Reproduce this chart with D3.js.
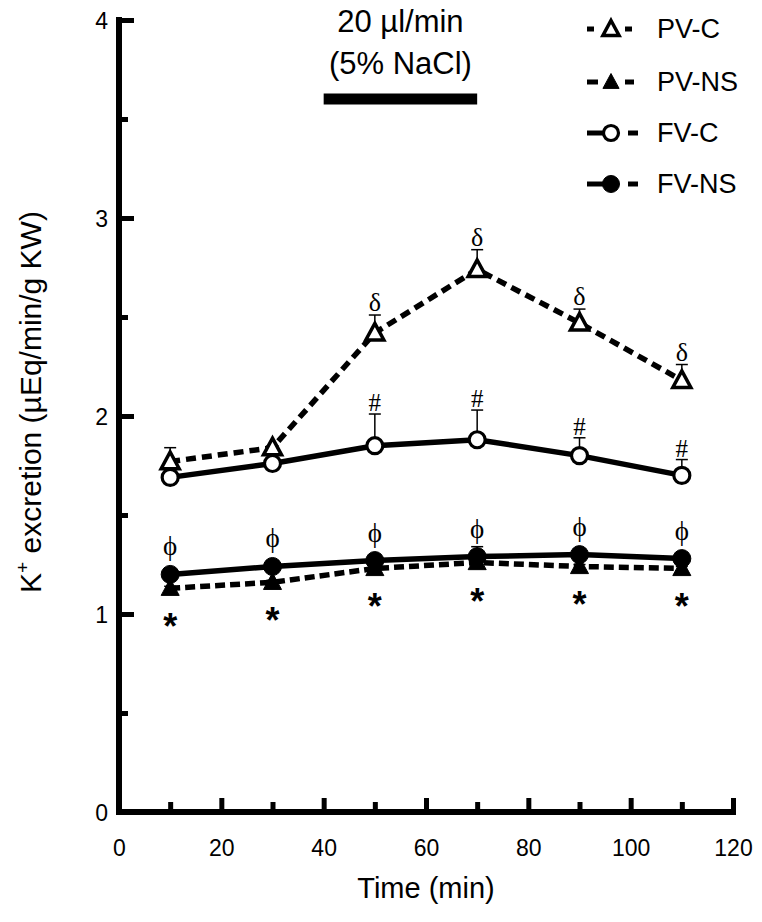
<!DOCTYPE html>
<html>
<head>
<meta charset="utf-8">
<script src="https://cdn.jsdelivr.net/npm/d3@7"></script>
<style>
  html, body { margin: 0; padding: 0; background: #fff; }
  svg { display: block; }
  text { font-family: "Liberation Sans", Arial, Helvetica, sans-serif; fill: #000; }
  .serif { font-family: "Liberation Serif", "DejaVu Serif", "Times New Roman", serif; }
</style>
</head>
<body>
<svg id="chart" width="762" height="922"></svg>
<script>
// ---------------- DATA ----------------
const times = [10, 30, 50, 70, 90, 110];

const pvC  = [1.77, 1.84, 2.42, 2.74, 2.47, 2.18];
const pvCErr = [0.07, 0.01, 0.09, 0.10, 0.07, 0.08];

const pvNS = [1.13, 1.16, 1.23, 1.26, 1.24, 1.23];
const pvNSErr = [0.01, 0.01, 0.02, 0.02, 0.01, 0.01];

const fvC  = [1.69, 1.76, 1.85, 1.88, 1.80, 1.70];
const fvCErr = [0.02, 0.02, 0.16, 0.15, 0.09, 0.08];

const fvNS = [1.20, 1.24, 1.27, 1.29, 1.30, 1.28];
const fvNSErr = [0.02, 0.02, 0.03, 0.05, 0.02, 0.02];

const pvCMarks  = ["", "", "δ", "δ", "δ", "δ"];
const fvCMarks  = ["", "", "#", "#", "#", "#"];
const fvNSMarks = ["ϕ", "ϕ", "ϕ", "ϕ", "ϕ", "ϕ"];
const pvNSMarks = ["*", "*", "*", "*", "*", "*"];

const xTickValues = [0, 10, 20, 30, 40, 50, 60, 70, 80, 90, 100, 110, 120];
const xTickLabels = ["0", "20", "40", "60", "80", "100", "120"];
const yTickValues = [0, 0.5, 1, 1.5, 2, 2.5, 3, 3.5, 4];
const yTickLabels = ["0", "1", "2", "3", "4"];

const infusionPeriod = [40, 70];
const infusionLabel = ["20 µl/min", "(5% NaCl)"];

const legendNames = ["PV-C", "PV-NS", "FV-C", "FV-NS"];

// ---------------- SETUP ----------------
const svg = d3.select("#chart");
const x = d3.scaleLinear().domain([0, 120]).range([119, 733]);
const y = d3.scaleLinear().domain([0, 4]).range([812, 20]);

// ---------------- AXES ----------------
const xAxis = d3.axisBottom(x)
  .tickValues(xTickValues)
  .tickSizeInner(-12)
  .tickSizeOuter(0)
  .tickFormat(d => xTickLabels.includes(String(d)) ? String(d) : "");
const gx = svg.append("g").attr("transform", `translate(0,${y(0)})`).call(xAxis);
gx.select(".domain").attr("stroke", "#000").attr("stroke-width", 6)
  .attr("d", `M${x(0) - 3},0H${x(120) + 3}`);
gx.selectAll(".tick line").attr("stroke", "#000").attr("stroke-width", 5)
  .attr("y2", d => (d % 20 === 0 ? -14 : -10));
gx.selectAll(".tick text").attr("font-size", 23).attr("dy", 0).attr("y", 44)
  .style("font-family", "'Liberation Sans', Arial, sans-serif");

const yAxis = d3.axisLeft(y)
  .tickValues(yTickValues)
  .tickSizeInner(-14)
  .tickSizeOuter(0)
  .tickFormat(d => yTickLabels.includes(String(d)) ? String(d) : "");
const gy = svg.append("g").attr("transform", `translate(${x(0)},0)`).call(yAxis);
gy.select(".domain").attr("stroke", "#000").attr("stroke-width", 6)
  .attr("d", `M0,${y(4) - 3}V${y(0) + 3}`);
gy.selectAll(".tick line").attr("stroke", "#000").attr("stroke-width", 5)
  .attr("x2", d => (Number.isInteger(d) ? 15 : 9));
gy.selectAll(".tick text").attr("font-size", 23).attr("x", -11).attr("dy", "0.36em")
  .style("font-family", "'Liberation Sans', Arial, sans-serif");

// Axis titles
svg.append("text")
  .attr("x", (x(0) + x(120)) / 2).attr("y", 898)
  .attr("text-anchor", "middle").attr("font-size", 29)
  .text("Time (min)");

const yt = svg.append("text")
  .attr("transform", `translate(41,402) rotate(-90)`)
  .attr("text-anchor", "middle").attr("font-size", 30);
yt.append("tspan").text("K");
yt.append("tspan").attr("font-size", 19).attr("dy", -12).text("+");
yt.append("tspan").attr("dy", 12).text(" excretion (µEq/min/g KW)");

// ---------------- INFUSION BAR ----------------
svg.append("line")
  .attr("x1", x(infusionPeriod[0])).attr("x2", x(infusionPeriod[1]))
  .attr("y1", 99).attr("y2", 99)
  .attr("stroke", "#000").attr("stroke-width", 11);
const midBar = (x(infusionPeriod[0]) + x(infusionPeriod[1])) / 2;
svg.append("text").attr("x", midBar).attr("y", 32).attr("text-anchor", "middle")
  .attr("font-size", 31).text(infusionLabel[0]);
svg.append("text").attr("x", midBar).attr("y", 74).attr("text-anchor", "middle")
  .attr("font-size", 31).text(infusionLabel[1]);

// ---------------- SERIES ----------------
const series = [
  { name: "PV-C",  vals: pvC,  err: pvCErr,  dash: "10,6", marker: "tri",  filled: false },
  { name: "FV-C",  vals: fvC,  err: fvCErr,  dash: null,   marker: "circ", filled: false },
  { name: "PV-NS", vals: pvNS, err: pvNSErr, dash: "10,5", marker: "tri",  filled: true },
  { name: "FV-NS", vals: fvNS, err: fvNSErr, dash: null,   marker: "circ", filled: true }
];

const line = d3.line().x((d, i) => x(times[i])).y(d => y(d));

series.forEach(s => {
  svg.append("path")
    .datum(s.vals)
    .attr("d", line)
    .attr("fill", "none")
    .attr("stroke", "#000")
    .attr("stroke-width", 5.5)
    .attr("stroke-dasharray", s.dash);
});

series.forEach(s => {
  const g = svg.append("g");
  s.vals.forEach((v, i) => {
    const cx = x(times[i]);
    g.append("line").attr("x1", cx).attr("x2", cx)
      .attr("y1", y(v)).attr("y2", y(v + s.err[i]))
      .attr("stroke", "#000").attr("stroke-width", 1.5);
    g.append("line").attr("x1", cx - 6).attr("x2", cx + 6)
      .attr("y1", y(v + s.err[i])).attr("y2", y(v + s.err[i]))
      .attr("stroke", "#000").attr("stroke-width", 1.5);
  });
});

function triPath(cx, cy, r) {
  const h = r * 1.0;
  return `M${cx},${cy - h}L${cx + r * 0.95},${cy + h * 0.75}L${cx - r * 0.95},${cy + h * 0.75}Z`;
}

function drawMarker(g, type, filled, cx, cy, size) {
  if (type === "tri") {
    g.append("path").attr("d", triPath(cx, cy, size))
      .attr("fill", filled ? "#000" : "#fff")
      .attr("stroke", "#000").attr("stroke-width", filled ? 1 : 3.5)
      .attr("stroke-linejoin", "miter");
  } else {
    g.append("circle").attr("cx", cx).attr("cy", cy).attr("r", filled ? size : size - 1)
      .attr("fill", filled ? "#000" : "#fff")
      .attr("stroke", "#000").attr("stroke-width", filled ? 1 : 3.2);
  }
}

series.forEach(s => {
  const g = svg.append("g");
  s.vals.forEach((v, i) => {
    drawMarker(g, s.marker, s.filled, x(times[i]), y(v), s.marker === "tri" ? 9.5 : 9);
  });
});

// ---------------- ANNOTATIONS ----------------
const ann = svg.append("g");
pvC.forEach((v, i) => {
  if (!pvCMarks[i]) return;
  ann.append("text").attr("class", "serif")
    .attr("x", x(times[i])).attr("y", y(v + pvCErr[i]) - 4)
    .attr("text-anchor", "middle").attr("font-size", 26).text(pvCMarks[i]);
});
fvC.forEach((v, i) => {
  if (!fvCMarks[i]) return;
  ann.append("text").attr("class", "serif")
    .attr("x", x(times[i])).attr("y", y(v + fvCErr[i]) - 3)
    .attr("text-anchor", "middle").attr("font-size", 25).text(fvCMarks[i]);
});
fvNS.forEach((v, i) => {
  if (!fvNSMarks[i]) return;
  ann.append("text").attr("class", "serif")
    .attr("x", x(times[i])).attr("y", y(v) - 19)
    .attr("text-anchor", "middle").attr("font-size", 27).text(fvNSMarks[i]);
});
pvNS.forEach((v, i) => {
  if (!pvNSMarks[i]) return;
  ann.append("text")
    .attr("x", x(times[i])).attr("y", y(v) + 51)
    .attr("text-anchor", "middle").attr("font-size", 36).attr("font-weight", "bold")
    .text(pvNSMarks[i]);
});

// ---------------- LEGEND ----------------
const legendY = [29, 82, 133, 184];
const legendStyle = [
  { marker: "tri",  filled: false, left: [587, 594], right: [625, 632] },
  { marker: "tri",  filled: true,  left: [587, 598], right: [625, 634] },
  { marker: "circ", filled: false, left: [587, 603], right: [628, 638] },
  { marker: "circ", filled: true,  left: [587, 603], right: [628, 638] }
];
const lg = svg.append("g");
legendNames.forEach((name, i) => {
  const st = legendStyle[i];
  const cy = legendY[i];
  [st.left, st.right].forEach(seg => {
    lg.append("line").attr("x1", seg[0]).attr("x2", seg[1])
      .attr("y1", cy).attr("y2", cy)
      .attr("stroke", "#000").attr("stroke-width", 5);
  });
  drawMarker(lg, st.marker, st.filled, 611, cy, 8.5);
  lg.append("text").attr("x", 657).attr("y", cy + 9)
    .attr("font-size", 27).text(name);
});
</script>
</body>
</html>
